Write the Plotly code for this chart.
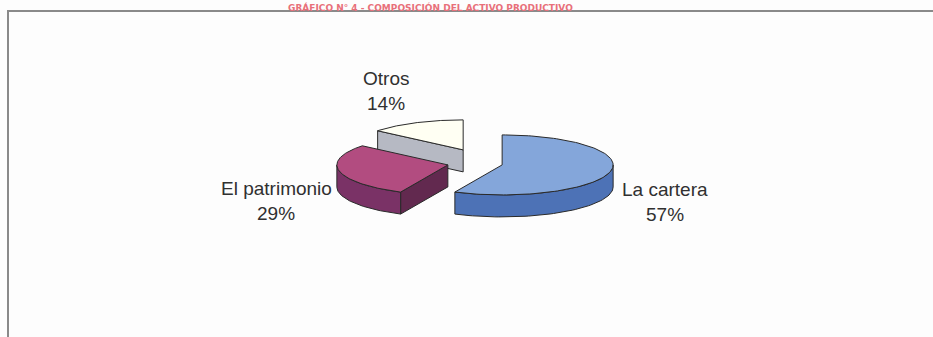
import numpy as np
import plotly.graph_objects as go

# Composition shares (percent)
labels = ["La cartera", "El patrimonio", "Otros"]
shares = [57, 29, 14]

# Styling per slice: top face, rim side, cut face
top_colors = ["#84A6DA", "#B24C80", "#FFFFF3"]
rim_colors = ["#4D72B6", "#7A3266", "#B6B9C3"]
cut_colors = ["#3F5F9F", "#62294F", "#B6B9C3"]

# Pie geometry (pixel space of the 933x337 canvas)
W, H = 933, 337
CX, CY = 475, 162          # centre of the un-exploded pie
RX, RY = 111, 30           # ellipse radii of the top face
DEPTH = 22                 # thickness of the pie
EXP_X, EXP_Y = 27.8, 13.4  # explosion offset along each slice bisector

# Label anchors (name line, then percent line)
label_pos = {
    "La cartera": (665, 189),
    "El patrimonio": (276, 188),
    "Otros": (386, 78),
}

fig = go.Figure()


def add_poly(xs, ys, color, name):
    fig.add_trace(go.Scatter(
        x=list(xs) + [xs[0]], y=list(ys) + [ys[0]],
        mode="lines", fill="toself", fillcolor=color,
        line=dict(color="#2a2a2a", width=1),
        hoverinfo="skip", showlegend=False, name=name,
    ))


def rim_point(px, py, t):
    return px + RX * np.cos(t), py - RY * np.sin(t)


# Slice angles: start at 12 o'clock, run clockwise
cum = np.cumsum([0] + shares[:-1])
starts = np.deg2rad(90 - np.array(cum) * 3.6)
ends = starts - np.deg2rad(np.array(shares) * 3.6)

# Paint the back slice first so front slices overlap it
order = sorted(range(len(shares)), key=lambda i: -np.sin((starts[i] + ends[i]) / 2))
for i in order:
    s, e = starts[i], ends[i]
    mid = (s + e) / 2
    px = CX + EXP_X * np.cos(mid)
    py = CY - EXP_Y * np.sin(mid)

    # visible cut faces
    for edge, normal in ((s, s + np.pi / 2), (e, e - np.pi / 2)):
        if np.sin(normal) < -1e-6:
            rx, ry = rim_point(px, py, edge)
            add_poly([px, rx, rx, px], [py, ry, ry + DEPTH, py + DEPTH],
                     cut_colors[i], labels[i])

    # visible outer rim (front half of the ellipse)
    for k in range(-2, 2):
        lo = max(e, -np.pi + 2 * np.pi * k)
        hi = min(s, 0 + 2 * np.pi * k)
        if hi - lo > 1e-6:
            t = np.linspace(lo, hi, 60)
            tx, ty = rim_point(px, py, t)
            add_poly(np.concatenate([tx, tx[::-1]]),
                     np.concatenate([ty, ty[::-1] + DEPTH]),
                     rim_colors[i], labels[i])

    # top face
    t = np.linspace(s, e, 120)
    tx, ty = rim_point(px, py, t)
    add_poly(np.concatenate([[px], tx]), np.concatenate([[py], ty]),
             top_colors[i], labels[i])

# Data labels
for name, val in zip(labels, shares):
    lx, ly = label_pos[name]
    fig.add_annotation(x=lx, y=ly, text=name, showarrow=False,
                       font=dict(family="Liberation Sans, Arial", size=19, color="#303030"))
    fig.add_annotation(x=lx, y=ly + 25, text=f"{val}%", showarrow=False,
                       font=dict(family="Liberation Sans, Arial", size=19, color="#303030"))

# Chart frame
fig.add_shape(type="rect", x0=8, y0=11, x1=W + 20, y1=H + 20,
              line=dict(color="#8a8a8a", width=2), fillcolor="rgba(0,0,0,0)")

# Heading above the frame
fig.add_annotation(x=430, y=0, xanchor="center", yanchor="top",
                   text="<b>GRÁFICO N° 4 - COMPOSICIÓN DEL ACTIVO PRODUCTIVO</b>",
                   showarrow=False,
                   font=dict(family="DejaVu Sans, Arial", size=9, color="#E8707A"))

fig.update_xaxes(range=[0, W], visible=False, fixedrange=True)
fig.update_yaxes(range=[H, 0], visible=False, fixedrange=True)
fig.update_layout(width=W, height=H, margin=dict(l=0, r=0, t=0, b=0),
                  paper_bgcolor="#FDFDFD", plot_bgcolor="#FDFDFD")

fig.write_html("out.html")
